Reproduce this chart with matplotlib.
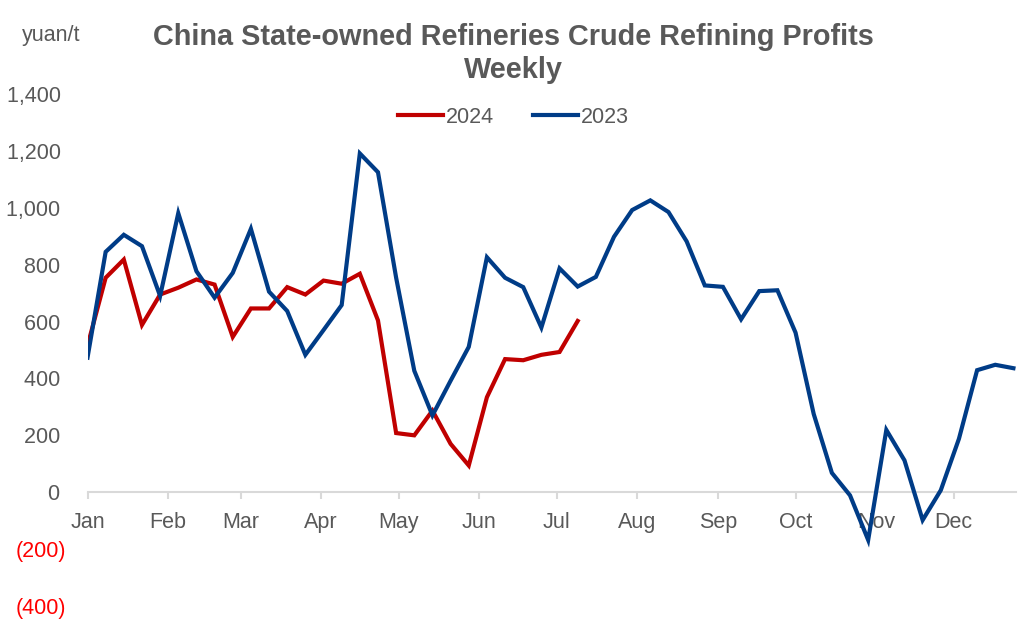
import matplotlib
matplotlib.use("Agg")
import matplotlib.pyplot as plt
import numpy as np

plt.rcParams['font.family'] = ['Liberation Sans', 'DejaVu Sans']

# ---- data ----
months = ["Jan", "Feb", "Mar", "Apr", "May", "Jun", "Jul", "Aug", "Sep", "Oct", "Nov", "Dec"]
month_start_day = [0, 31, 59, 90, 120, 151, 181, 212, 243, 273, 304, 334]

profit_2024 = [515, 754, 818, 588, 695, 719, 748, 730, 546, 646, 646, 721, 695, 744,
               733, 768, 604, 208, 200, 287, 170, 94, 334, 468, 464, 483, 493, 602]
profit_2023 = [473, 845, 905, 865, 690, 981, 777, 684, 771, 926, 705, 637, 483, 570,
               658, 1191, 1125, 754, 427, 270, 392, 511, 826, 754, 721, 579, 787, 723,
               757, 898, 992, 1026, 985, 882, 727, 722, 608, 707, 710, 561, 275, 68,
               -11, -168, 219, 112, -98, 7, 188, 429, 448, 436]
y_ticks = [-400, -200, 0, 200, 400, 600, 800, 1000, 1200, 1400]

day_2024 = [7 * i for i in range(len(profit_2024))]
day_2023 = [7 * i for i in range(len(profit_2023))]

# ---- style ----
RED = "#C00000"
BLUE = "#003C87"
GRAY = "#595959"
AXIS = "#D9D9D9"
FS = 15.5

fig = plt.figure(figsize=(10.27, 6.30), dpi=100)
ax = fig.add_axes([0.0852, 0.0381, 0.9041, 0.8127])

ax.plot(day_2024, profit_2024, color=RED, lw=3.0, label="2024", solid_joinstyle="miter")
ax.plot(day_2023, profit_2023, color=BLUE, lw=3.0, label="2023", solid_joinstyle="miter")

ax.set_xlim(0, 358)
ax.set_ylim(-400, 1400)

for s in ["top", "right", "left"]:
    ax.spines[s].set_visible(False)
ax.spines["bottom"].set_position(("data", 0))
ax.spines["bottom"].set_color(AXIS)
ax.spines["bottom"].set_linewidth(1.5)
ax.spines["bottom"].set_zorder(0)

ax.set_xticks(month_start_day)
ax.set_xticklabels(months)
ax.tick_params(axis="x", direction="out", length=5, width=1.5, color=AXIS,
               labelsize=FS, labelcolor=GRAY, pad=9)

ax.set_yticks(y_ticks)
ylabels = []
for v in y_ticks:
    if v < 0:
        ylabels.append("({:,})".format(-v))
    else:
        ylabels.append("{:,}\u2005".format(v))
ax.set_yticklabels(ylabels)
ax.tick_params(axis="y", length=0, labelsize=FS, pad=15.5)
for lab, v in zip(ax.get_yticklabels(), y_ticks):
    lab.set_color("#FF0000" if v < 0 else GRAY)

fig.text(0.5, 0.915, "China State-owned Refineries Crude Refining Profits\nWeekly",
         ha="center", va="center", fontsize=20.8, fontweight="bold", color=GRAY,
         linespacing=1.22)
fig.text(0.021, 0.943, "yuan/t", ha="left", va="center", fontsize=FS, color=GRAY)

ax.legend(loc="center", bbox_to_anchor=(0.5, 0.814), bbox_transform=fig.transFigure,
          ncol=2, frameon=False, fontsize=FS, labelcolor=GRAY, handlelength=2.1,
          handletextpad=0.15, columnspacing=1.8)

fig.savefig("out.png", dpi=100)
